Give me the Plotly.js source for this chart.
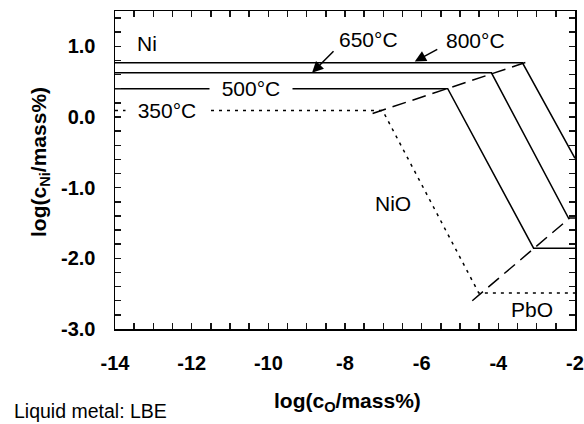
<!DOCTYPE html>
<html>
<head>
<meta charset="utf-8">
<script src="https://cdn.plot.ly/plotly-3.0.1.min.js"></script>
<style>html,body{margin:0;padding:0;background:#fff;}#chart{width:584px;height:424px;}</style>
</head>
<body>
<div id="chart"></div>
<script>
// Stability lines, x = log(c_O/mass%), y = log(c_Ni/mass%), liquid metal LBE
const x800 = [-14, -3.37, -2];
const y800 = [0.766, 0.766, -0.584];
const x650 = [-14, -4.18, -2.17, -2];
const y650 = [0.625, 0.625, -1.43, -1.43];
const x500 = [-14, -5.32, -3.08, -2];
const y500 = [0.40, 0.40, -1.857, -1.857];
const x350 = [-14, -7.02, -4.51, -2];
const y350 = [0.093, 0.093, -2.49, -2.49];
// Ni / NiO boundary (dashed)
const xNiNiO = [-7.28, -3.13];
const yNiNiO = [0.05, 0.80];
// NiO / PbO boundary (dashed)
const xNiOPbO = [-4.68, -2.14];
const yNiOPbO = [-2.60, -1.43];

// tick positions (labelled majors, unlabelled minors)
const xTickVals = [-14, -13.5, -13, -12.5, -12, -11.5, -11, -10.5, -10, -9.5, -9, -8.5, -8,
                   -7.5, -7, -6.5, -6, -5.5, -5, -4.5, -4, -3.5, -3, -2.5, -2];
const xTickText = ['-14', '', '', '', '-12', '', '', '', '-10', '', '', '', '-8',
                   '', '', '', '-6', '', '', '', '-4', '', '', '', '-2'];
const yTickVals = [-3, -2.8, -2.6, -2.4, -2.2, -2, -1.8, -1.6, -1.4, -1.2, -1, -0.8, -0.6,
                   -0.4, -0.2, 0, 0.2, 0.4, 0.6, 0.8, 1, 1.2, 1.4];
const yTickText = ['-3.0', '', '', '', '', '-2.0', '', '', '', '', '-1.0', '', '',
                   '', '', '0.0', '', '', '', '', '1.0', '', ''];

const FONT = 'Liberation Sans, Arial, sans-serif';
const solid = {color: '#000', width: 1.5};

const traces = [
  {x: x800, y: y800, mode: 'lines', line: solid, name: '800°C'},
  {x: x650, y: y650, mode: 'lines', line: solid, name: '650°C'},
  {x: x500, y: y500, mode: 'lines', line: solid, name: '500°C'},
  {x: x350, y: y350, mode: 'lines', line: {color: '#000', width: 1.5, dash: '3px,5px'}, name: '350°C'},
  {x: xNiNiO, y: yNiNiO, mode: 'lines', line: {color: '#000', width: 1.5, dash: '14px,7px'}, name: 'Ni/NiO'},
  {x: xNiOPbO, y: yNiOPbO, mode: 'lines', line: {color: '#000', width: 1.5, dash: '14px,7px'}, name: 'NiO/PbO'}
];

const nb = '\u00a0\u00a0';
const txt = (x, y, text, extra) => Object.assign({
  x: x, y: y, xref: 'x', yref: 'y', text: text, showarrow: false,
  font: {family: FONT, size: 21, color: '#000'}
}, extra || {});
const arrow = (x, y, ax, ay) => ({
  x: x, y: y, xref: 'x', yref: 'y', text: '', showarrow: true,
  ax: ax, ay: ay, arrowhead: 2, arrowsize: 1.5, arrowwidth: 1.5, arrowcolor: '#000',
  standoff: 0, startstandoff: 0
});

const axisCommon = {
  showgrid: false, zeroline: false,
  showline: true, linecolor: '#000', linewidth: 1.5, mirror: 'ticks',
  tickmode: 'array',
  ticks: 'inside', ticklen: 6, tickwidth: 1.5, tickcolor: 'rgb(20,20,20)',
  tickfont: {family: FONT, size: 20, weight: 'bold', color: '#000'}
};

const layout = {
  width: 584, height: 424,
  margin: {l: 115, r: 9, t: 11, b: 95},
  paper_bgcolor: '#fff', plot_bgcolor: '#fff',
  showlegend: false,
  font: {family: FONT, color: '#000'},
  xaxis: Object.assign({}, axisCommon, {
    range: [-14, -2],
    tickvals: xTickVals, ticktext: xTickText,
    ticklabelstandoff: 15
  }),
  yaxis: Object.assign({}, axisCommon, {
    range: [-3, 1.5],
    tickvals: yTickVals, ticktext: yTickText,
    ticklabelstandoff: 14
  }),
  annotations: [
    txt(-13.17, 1.04, 'Ni'),
    txt(-6.74, -1.23, 'NiO'),
    txt(-3.13, -2.73, 'PbO'),
    txt(-10.46, 0.40, nb + '500°C' + nb, {bgcolor: '#fff', borderpad: 0}),
    txt(-12.65, 0.093, nb + '350°C' + nb, {bgcolor: '#fff', borderpad: 0}),
    txt(-7.38, 1.094, '650°C'),
    txt(-4.59, 1.08, '800°C'),
    arrow(-8.86, 0.625, 23, -23),
    arrow(-6.18, 0.785, 24, -13),
    {x: 347, y: 402, xref: 'paper', yref: 'paper', showarrow: false,
     text: 'log(c<sub>O</sub>/mass%)',
     font: {family: FONT, size: 21, weight: 'bold', color: '#000'}},
    {x: 25, y: 162, xref: 'paper', yref: 'paper', showarrow: false, textangle: -90,
     text: 'log(c<sub>Ni</sub>/mass%)',
     font: {family: FONT, size: 21, weight: 'bold', color: '#000'}},
    {x: 12, y: 411, xref: 'paper', yref: 'paper', showarrow: false, xanchor: 'left',
     text: 'Liquid metal: LBE',
     font: {family: FONT, size: 19.5, color: '#000'}}
  ]
};

// convert page-pixel positions of the outer texts to paper coordinates
const pw = layout.width - layout.margin.l - layout.margin.r;
const ph = layout.height - layout.margin.t - layout.margin.b;
layout.annotations.forEach(a => {
  if (a.xref === 'paper') {
    a.x = (a.x - layout.margin.l) / pw;
    a.y = 1 - (a.y - layout.margin.t) / ph;
    a.yanchor = 'middle';
  }
});

Plotly.newPlot('chart', traces, layout, {staticPlot: true});
</script>
</body>
</html>
